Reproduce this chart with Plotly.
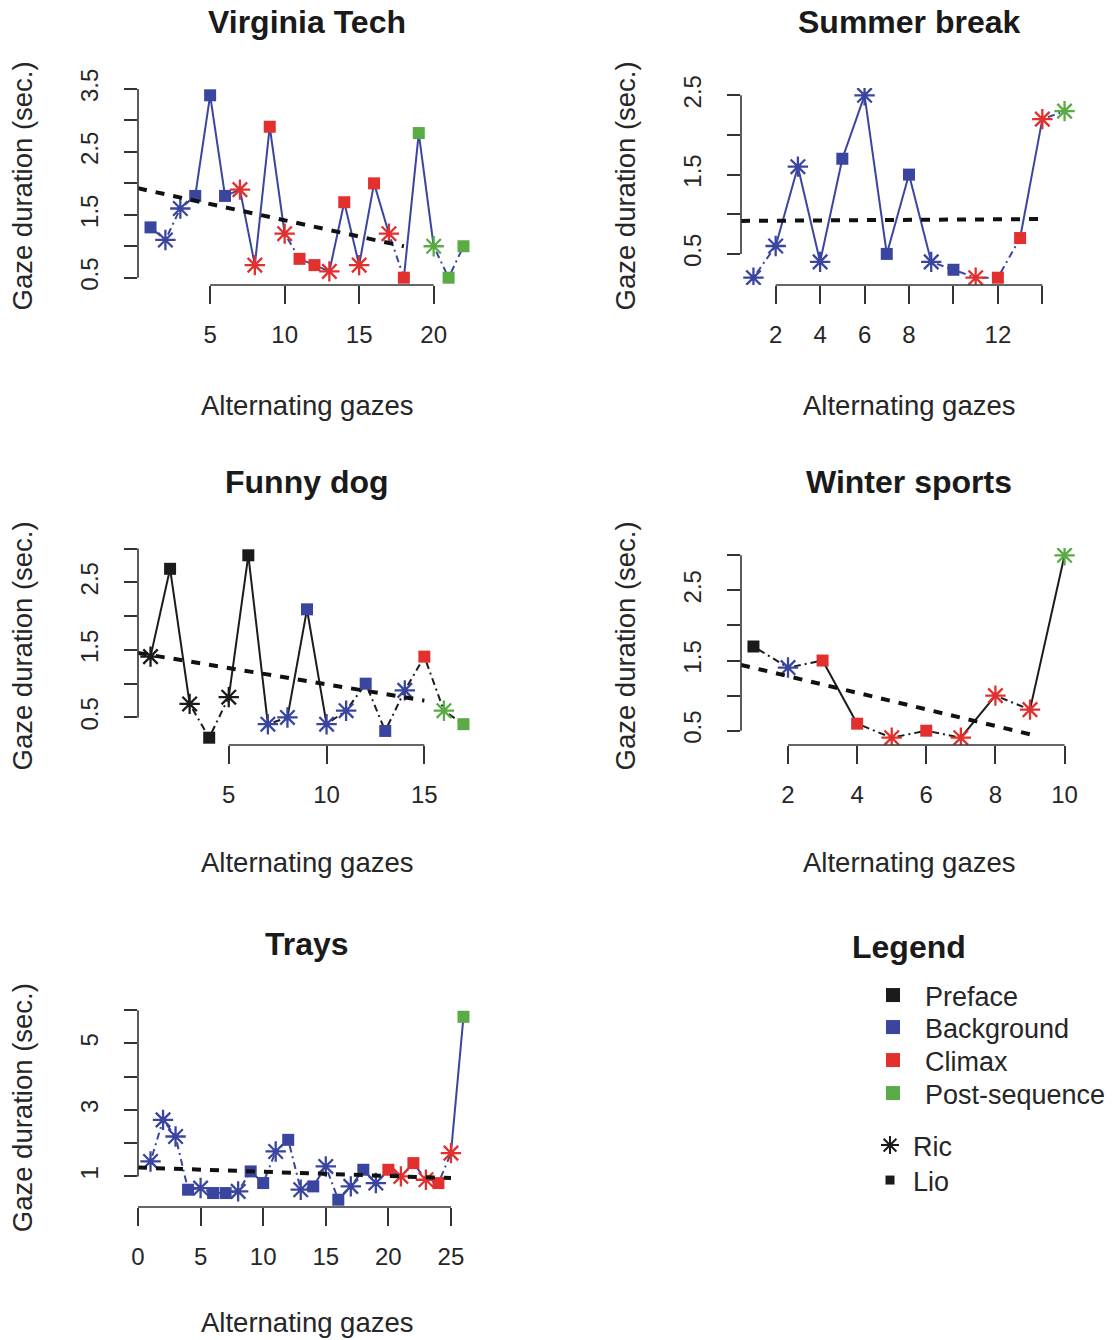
import numpy as np
import plotly.graph_objects as go

# ---------------- data ----------------
PHASE_CODES = ["P", "B", "C", "S"]
PHASE_NAMES = ["Preface", "Background", "Climax", "Post-sequence"]
SPEAKER_CODES = ["R", "L"]
SPEAKER_NAMES = ["Ric", "Lio"]

panel_titles = ["Virginia Tech", "Summer break", "Funny dog", "Winter sports", "Trays"]

vt_values = [1.3, 1.1, 1.6, 1.8, 3.4, 1.8, 1.9, 0.7, 2.9, 1.2, 0.8, 0.7, 0.6, 1.7, 0.7,
             2.0, 1.2, 0.5, 2.8, 1.0, 0.5, 1.0]
vt_phases = list("BBBBBBCCCCCCCCCCCCSSSS")
vt_speakers = list("LRRLLLRRLRLLRLRLRLLRLL")
vt_solid_from = [4, 5, 7, 8, 9, 13, 14, 15, 16, 18, 19]
vt_xticks = [5, 10, 15, 20]
vt_xticklabels = ["5", "10", "15", "20"]
vt_yticks = [0.5, 1.0, 1.5, 2.0, 2.5, 3.0, 3.5]
vt_yticklabels = ["0.5", "", "1.5", "", "2.5", "", "3.5"]

sb_values = [0.2, 0.6, 1.6, 0.4, 1.7, 2.5, 0.5, 1.5, 0.4, 0.3, 0.2, 0.2, 0.7, 2.2, 2.3]
sb_phases = list("BBBBBBBBBBCCCCS")
sb_speakers = list("RRRRLRLLRLRLLRR")
sb_solid_from = [2, 3, 4, 5, 6, 7, 8, 13]
sb_xticks = [2, 4, 6, 8, 10, 12, 14]
sb_xticklabels = ["2", "4", "6", "8", "", "12", ""]
sb_yticks = [0.5, 1.0, 1.5, 2.0, 2.5]
sb_yticklabels = ["0.5", "", "1.5", "", "2.5"]

fd_values = [1.4, 2.7, 0.7, 0.2, 0.8, 2.9, 0.4, 0.5, 2.1, 0.4, 0.6, 1.0, 0.3, 0.9, 1.4, 0.6, 0.4]
fd_phases = list("PPPPPPBBBBBBBBCSS")
fd_speakers = list("RLRLRLRRLRRLLRLRL")
fd_solid_from = [1, 2, 5, 6, 8, 9]
fd_xticks = [5, 10, 15]
fd_xticklabels = ["5", "10", "15"]
fd_yticks = [0.5, 1.0, 1.5, 2.0, 2.5, 3.0]
fd_yticklabels = ["0.5", "", "1.5", "", "2.5", ""]

ws_values = [1.7, 1.4, 1.5, 0.6, 0.4, 0.5, 0.4, 1.0, 0.8, 3.0]
ws_phases = list("PBCCCCCCCS")
ws_speakers = list("LRLLRLRRRR")
ws_solid_from = [3, 7, 9]
ws_xticks = [2, 4, 6, 8, 10]
ws_xticklabels = ["2", "4", "6", "8", "10"]
ws_yticks = [0.5, 1.0, 1.5, 2.0, 2.5, 3.0]
ws_yticklabels = ["0.5", "", "1.5", "", "2.5", ""]

tr_values = [1.45, 2.7, 2.2, 0.6, 0.65, 0.5, 0.5, 0.55, 1.15, 0.8, 1.75, 2.1, 0.6, 0.7, 1.3,
             0.3, 0.7, 1.2, 0.8, 1.2, 1.0, 1.4, 0.9, 0.8, 1.7, 5.8]
tr_phases = list("BBBBBBBBBBBBBBBBBBBCCCCCCS")
tr_speakers = list("RRRLRLLRLLRLRLRLRLRLRLRLRL")
tr_solid_from = [25]
tr_xticks = [0, 5, 10, 15, 20, 25]
tr_xticklabels = ["0", "5", "10", "15", "20", "25"]
tr_yticks = [1, 2, 3, 4, 5, 6]
tr_yticklabels = ["1", "", "3", "", "5", ""]

# ---------------- styles ----------------
PHASE_COLORS = {"P": "#1b1b1b", "B": "#3a45a0", "C": "#e2302e", "S": "#5aab46"}
FONT = "Liberation Sans, Arial, Helvetica, sans-serif"
TXT = "#262626"
FIG_W, FIG_H = 1114, 1340
COLS_PX = [(138, 476), (741, 1077)]
ROWS_PX = [(88, 285), (548, 745), (1009.5, 1207)]
XTITLE_SHIFT = [-120, -117, -115]

panels = [
    (vt_values, vt_phases, vt_speakers, vt_solid_from, vt_xticks, vt_xticklabels, vt_yticks, vt_yticklabels, 0, 0),
    (sb_values, sb_phases, sb_speakers, sb_solid_from, sb_xticks, sb_xticklabels, sb_yticks, sb_yticklabels, 0, 1),
    (fd_values, fd_phases, fd_speakers, fd_solid_from, fd_xticks, fd_xticklabels, fd_yticks, fd_yticklabels, 1, 0),
    (ws_values, ws_phases, ws_speakers, ws_solid_from, ws_xticks, ws_xticklabels, ws_yticks, ws_yticklabels, 1, 1),
    (tr_values, tr_phases, tr_speakers, tr_solid_from, tr_xticks, tr_xticklabels, tr_yticks, tr_yticklabels, 2, 0),
]


def r_range(v):
    lo, hi = float(np.min(v)), float(np.max(v))
    pad = 0.04 * (hi - lo)
    return [lo - pad, hi + pad]


fig = go.Figure()
layout = dict(
    width=FIG_W, height=FIG_H,
    margin=dict(l=0, r=0, t=0, b=0, autoexpand=False),
    paper_bgcolor="white", plot_bgcolor="white",
    font=dict(family=FONT, size=24, color=TXT),
    showlegend=True,
)
shapes, annotations = [], []

for k, (vals, phases, spk, solid_from, xt, xtl, yt, ytl, r, c) in enumerate(panels):
    n = len(vals)
    xs = np.arange(1, n + 1)
    ys = np.array(vals, dtype=float)
    xa = "x" if k == 0 else f"x{k+1}"
    ya = "y" if k == 0 else f"y{k+1}"
    xr = r_range(xs)
    yr = r_range(ys)
    x0p, x1p = COLS_PX[c]
    y0p, y1p = ROWS_PX[r]
    layout["xaxis" if k == 0 else f"xaxis{k+1}"] = dict(
        domain=[x0p / FIG_W, x1p / FIG_W], range=xr, anchor=ya,
        tickmode="array", tickvals=xt, ticktext=xtl,
        ticks="outside", ticklen=18, tickwidth=1.6, tickcolor="#333",
        showline=False, showgrid=False, zeroline=False, automargin=False,
        tickfont=dict(size=24, color=TXT), ticklabelstandoff=10,
    )
    layout["yaxis" if k == 0 else f"yaxis{k+1}"] = dict(
        domain=[1 - y1p / FIG_H, 1 - y0p / FIG_H], range=yr, anchor=xa,
        tickmode="array", tickvals=yt, ticktext=ytl, tickangle=-90,
        ticks="outside", ticklen=13, tickwidth=1.6, tickcolor="#333",
        showline=False, showgrid=False, zeroline=False, automargin=False,
        tickfont=dict(size=24, color=TXT), ticklabelstandoff=16,
    )
    # R-style axis lines spanning first to last tick
    shapes.append(dict(type="line", xref=xa, yref=f"{ya} domain", x0=xt[0], x1=xt[-1], y0=0, y1=0,
                       line=dict(color="#333", width=1.6)))
    shapes.append(dict(type="line", xref=f"{xa} domain", yref=ya, x0=0, x1=0, y0=yt[0], y1=yt[-1],
                       line=dict(color="#333", width=1.6)))

    line_color = PHASE_COLORS[phases[0]]
    # connecting segments
    sx, sy, dx, dy = [], [], [], []
    for i in range(n - 1):
        if (i + 1) in solid_from:
            sx += [xs[i], xs[i + 1], None]
            sy += [ys[i], ys[i + 1], None]
        else:
            dx += [xs[i], xs[i + 1], None]
            dy += [ys[i], ys[i + 1], None]
    fig.add_trace(go.Scatter(x=dx, y=dy, mode="lines", xaxis=xa, yaxis=ya, showlegend=False,
                             line=dict(color=line_color, width=2, dash="2px,4px,7px,4px"),
                             hoverinfo="skip"))
    fig.add_trace(go.Scatter(x=sx, y=sy, mode="lines", xaxis=xa, yaxis=ya, showlegend=False,
                             line=dict(color=line_color, width=2), hoverinfo="skip"))

    # markers by phase and speaker
    ph = np.array(phases)
    sp = np.array(spk)
    for pc in PHASE_CODES:
        for sc in SPEAKER_CODES:
            m = (ph == pc) & (sp == sc)
            if not m.any():
                continue
            col = PHASE_COLORS[pc]
            if sc == "R":
                mk = dict(symbol="asterisk-open", size=17, color=col, line=dict(color=col, width=2.3))
            else:
                mk = dict(symbol="square", size=12, color=col, line=dict(width=0))
            fig.add_trace(go.Scatter(x=xs[m], y=ys[m], mode="markers", xaxis=xa, yaxis=ya,
                                     marker=mk, showlegend=False))

    # regression over non post-sequence gazes
    fit = ph != "S"
    slope, inter = np.polyfit(xs[fit], ys[fit], 1)
    rx = np.array([xr[0], xs[fit][-1]])
    fig.add_trace(go.Scatter(x=rx, y=inter + slope * rx, mode="lines", xaxis=xa, yaxis=ya,
                             showlegend=False, line=dict(color="#111", width=4, dash="9px,9px"),
                             hoverinfo="skip"))

    # texts
    annotations.append(dict(text=f"<b>{panel_titles[k]}</b>", xref=f"{xa} domain", yref=f"{ya} domain",
                            x=0.5, y=1, yshift=66, showarrow=False, xanchor="center", yanchor="middle",
                            font=dict(size=32, color="#1a1a1a")))
    annotations.append(dict(text="Alternating gazes", xref=f"{xa} domain", yref=f"{ya} domain",
                            x=0.5, y=0, yshift=XTITLE_SHIFT[r], showarrow=False, xanchor="center",
                            yanchor="middle", font=dict(size=27.5, color=TXT)))
    annotations.append(dict(text="Gaze duration (sec.)", xref=f"{xa} domain", yref=f"{ya} domain",
                            x=0, y=0.5, xshift=-116, textangle=-90, showarrow=False,
                            xanchor="center", yanchor="middle",
                            font=dict(size=27.5, color=TXT)))

# legend panel title
annotations.append(dict(text="<b>Legend</b>", xref="paper", yref="paper",
                        x=(COLS_PX[1][0] + COLS_PX[1][1]) / 2 / FIG_W, y=1 - ROWS_PX[2][0] / FIG_H,
                        yshift=63, showarrow=False, xanchor="center", yanchor="middle",
                        font=dict(size=32, color="#1a1a1a")))

# legend entries (one small legend per entry for R-like spacing)
legend_items = []
for pc, pn in zip(PHASE_CODES, PHASE_NAMES):
    legend_items.append((pn, dict(symbol="square", size=14, color=PHASE_COLORS[pc])))
legend_items.append(("Ric", dict(symbol="asterisk-open", size=15, color="#1b1b1b",
                                 line=dict(color="#1b1b1b", width=2))))
legend_items.append(("Lio", dict(symbol="square", size=9, color="#1b1b1b")))
legend_centers_y = [995, 1027, 1060, 1093, 1145, 1180]
legend_marker_x = [893, 893, 893, 893, 890, 890]
legend_text_gap = [32, 32, 32, 32, 23, 23]

for j, (name, mk) in enumerate(legend_items):
    lname = "legend" if j == 0 else f"legend{j+1}"
    fig.add_trace(go.Scatter(x=[None], y=[None], mode="markers", name=name, legend=lname, marker=mk))
    iw = 2 * (legend_text_gap[j] - 5)
    lx = legend_marker_x[j] - 5 - iw / 2
    layout[lname] = dict(x=lx / FIG_W, y=1 - (legend_centers_y[j] - 24) / FIG_H,
                         xanchor="left", yanchor="top", itemwidth=max(30, iw),
                         font=dict(size=27, color=TXT), bgcolor="rgba(0,0,0,0)", borderwidth=0)

layout["shapes"] = shapes
layout["annotations"] = annotations
fig.update_layout(**layout)

fig.write_html("out.html", config={"displayModeBar": False},
               post_script="document.body.style.margin='0px';")
